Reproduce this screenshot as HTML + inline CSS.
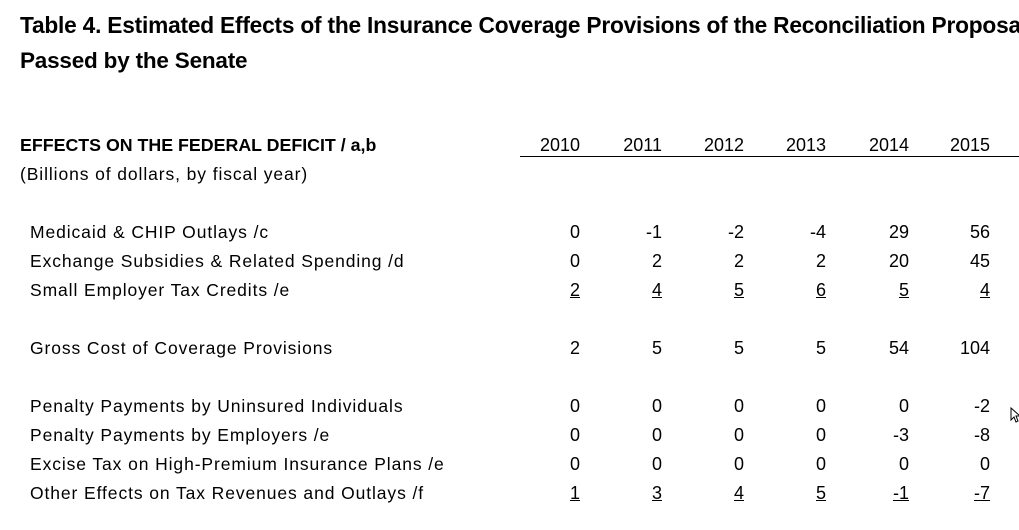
<!DOCTYPE html>
<html><head><meta charset="utf-8"><style>
body{margin:0;background:#fff;width:1019px;height:530px;overflow:hidden;position:relative;font-family:"Liberation Sans",sans-serif;color:#000}
.t{position:absolute;white-space:nowrap;font-size:18px;line-height:22px}
.b{font-weight:bold}
.r{text-align:right;width:60px}
.u{text-decoration:underline}
</style></head><body>
<div class="t b" style="left:20px;top:14px;font-size:22.7px;letter-spacing:-0.2px">Table 4. Estimated Effects of the Insurance Coverage Provisions of the Reconciliation Proposal</div>
<div class="t b" style="left:20px;top:50px;font-size:22.5px;letter-spacing:-0.2px">Passed by the Senate</div>
<div class="t b" style="left:20px;top:134px;font-size:17.8px">EFFECTS ON THE FEDERAL DEFICIT / a,b</div>
<div class="t" style="left:20px;top:163px;font-size:17.5px;letter-spacing:0.9px">(Billions of dollars, by fiscal year)</div>
<div style="position:absolute;left:520px;top:156px;width:499px;height:1px;background:#000"></div>
<div id="g"></div>
<script>
var cols=[580,662,744,826,909,990];
var years=["2010","2011","2012","2013","2014","2015"];
var h='';
years.forEach(function(y,i){h+='<div class="t r" style="left:'+(cols[i]-60)+'px;top:134px">'+y+'</div>';});
var rows=[
[232,"Medicaid & CHIP Outlays /c",["0","-1","-2","-4","29","56"],0],
[261,"Exchange Subsidies & Related Spending /d",["0","2","2","2","20","45"],0],
[290,"Small Employer Tax Credits /e",["2","4","5","6","5","4"],1],
[348,"Gross Cost of Coverage Provisions",["2","5","5","5","54","104"],0],
[406,"Penalty Payments by Uninsured Individuals",["0","0","0","0","0","-2"],0],
[435,"Penalty Payments by Employers /e",["0","0","0","0","-3","-8"],0],
[464,"Excise Tax on High-Premium Insurance Plans /e",["0","0","0","0","0","0"],0],
[493,"Other Effects on Tax Revenues and Outlays /f",["1","3","4","5","-1","-7"],1]
];
rows.forEach(function(r){
 h+='<div class="t" style="left:30px;top:'+(r[0]-11)+'px;font-size:17.5px;letter-spacing:0.9px">'+r[1].replace('&','&amp;')+'</div>';
 r[2].forEach(function(v,i){h+='<div class="t r" style="left:'+(cols[i]-60)+'px;top:'+(r[0]-11)+'px"><span'+(r[3]?' class="u"':'')+'>'+v+'</span></div>';});
});
document.getElementById('g').innerHTML=h;
</script>
<svg style="position:absolute;left:1010px;top:407px" width="10" height="16"><path d="M1 1 L1 13 L4 10 L6 15 L8 14 L6 9 L10 9 Z" fill="#fff" stroke="#000" stroke-width="1"/></svg>
</body></html>
